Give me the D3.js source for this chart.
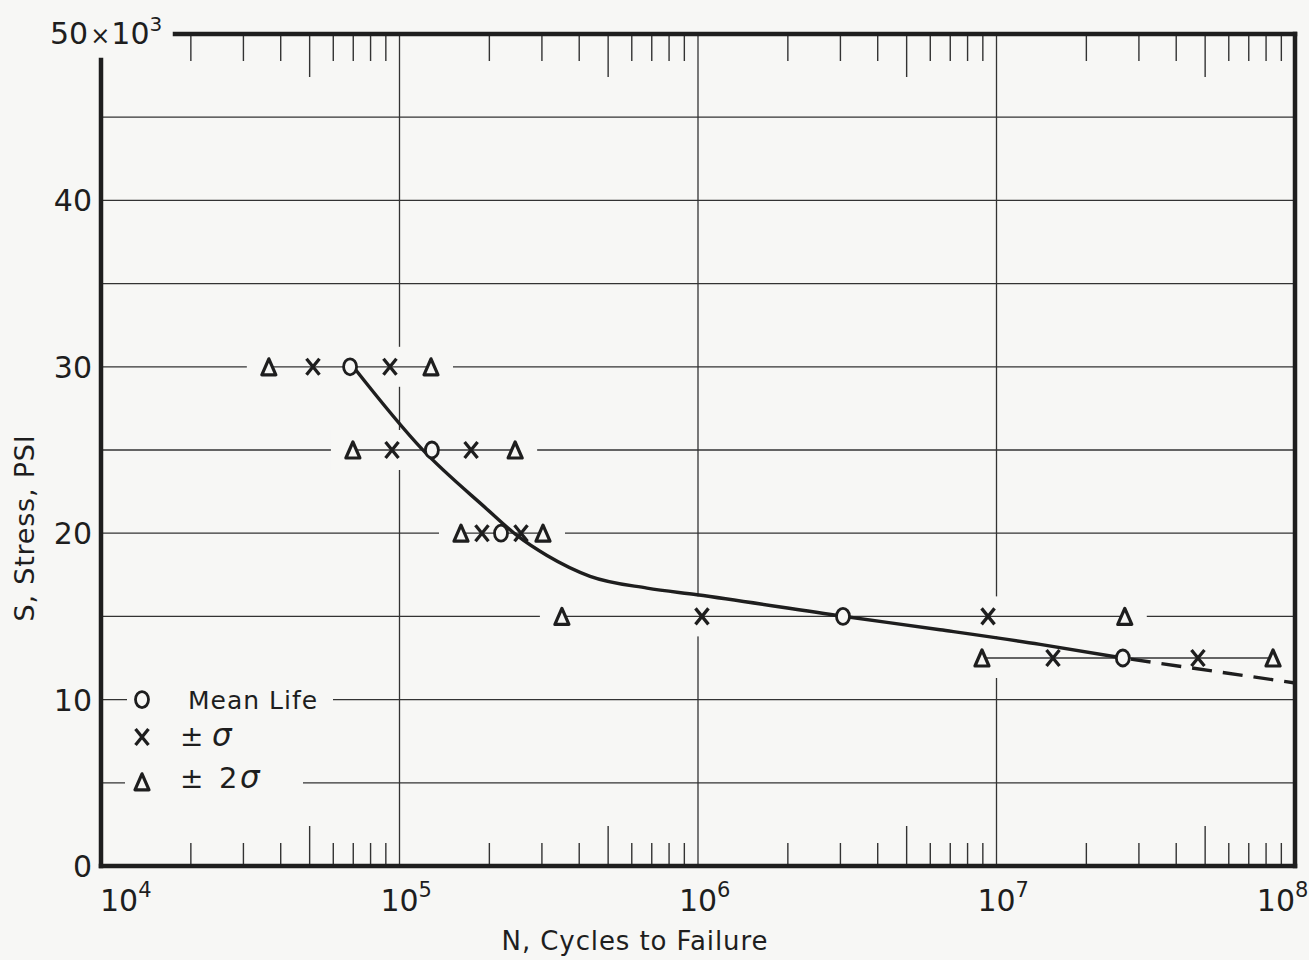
<!DOCTYPE html>
<html>
<head>
<meta charset="utf-8">
<script src="https://cdn.jsdelivr.net/npm/d3@7"></script>
<style>
  html, body { margin: 0; padding: 0; background: #f7f7f5; }
  svg { display: block; }
  text { font-family: "DejaVu Sans", sans-serif; fill: #1e1e1e; }
</style>
</head>
<body>
<svg id="chart" width="1309" height="960"></svg>
<script>
// ---------------- data ----------------
const xDecades = [1e4, 1e5, 1e6, 1e7, 1e8];
const xDecadeExponents = ["4", "5", "6", "7", "8"];
const yTickValues = [0, 10, 20, 30, 40];
const yTickLabels = ["0", "10", "20", "30", "40"];
const yTopValue = 50;
const yGridValues = [5, 10, 15, 20, 25, 30, 35, 40, 45];

const stressLevels = [30, 25, 20, 15, 12.5];
const meanLife     = [6.83e4, 1.284e5, 2.188e5, 3.06e6, 2.65e7];
const sigmaLow     = [5.13e4, 9.44e4, 1.889e5, 1.031e6, 1.546e7];
const sigmaHigh    = [9.29e4, 1.737e5, 2.553e5, 9.37e6, 4.73e7];
const twoSigmaLow  = [3.65e4, 6.98e4, 1.607e5, 3.50e5, 8.94e6];
const twoSigmaHigh = [1.275e5, 2.44e5, 3.025e5, 2.69e7, 8.44e7];

const curveN = [7.0e4, 1.19e5, 1.96e5, 2.48e5, 3.12e5, 4.35e5, 6.75e5, 9.93e5, 3.06e6, 6.47e6, 1.40e7, 2.65e7];
const curveS = [30, 25.05, 21.46, 19.85, 18.66, 17.41, 16.70, 16.30, 15.01, 14.20, 13.32, 12.50];
const extrapN = [2.65e7, 1e8];
const extrapS = [12.50, 11.0];

const legendLabels = ["Mean Life", "±", "σ", "±", "2", "σ"];
const xTitle = "N, Cycles to Failure";
const yTitle = "S, Stress, PSI";

// ---------------- layout ----------------
const BG = "#f7f7f5", INK = "#1e1e1e", GRID = "#333";
const L = 101, R = 1295, T = 34, B = 866;
const svg = d3.select("#chart");
svg.append("rect").attr("width", 1309).attr("height", 960).attr("fill", BG);

const x = d3.scaleLog().domain([1e4, 1e8]).range([L, R]);
const y = d3.scaleLinear().domain([0, 50]).range([B, T]);

// gridlines
const grid = svg.append("g").attr("stroke", GRID).attr("stroke-width", 1.3);
grid.selectAll("line.h").data(yGridValues).join("line")
  .attr("x1", L).attr("x2", R).attr("y1", d => y(d)).attr("y2", d => y(d));
grid.selectAll("line.v").data(xDecades.slice(1, -1)).join("line")
  .attr("y1", T).attr("y2", B).attr("x1", d => x(d)).attr("x2", d => x(d));

// minor ticks (top and bottom)
const minor = [];
for (let k = 0; k < xDecades.length - 1; k++)
  for (let m = 2; m <= 9; m++) minor.push({v: xDecades[k] * m, m});
const ticks = svg.append("g").attr("stroke", GRID).attr("stroke-width", 1.4);
ticks.selectAll("line.b").data(minor).join("line")
  .attr("x1", d => x(d.v)).attr("x2", d => x(d.v))
  .attr("y1", B).attr("y2", d => B - (d.m === 5 ? 40 : 23));
ticks.selectAll("line.t").data(minor).join("line")
  .attr("x1", d => x(d.v)).attr("x2", d => x(d.v))
  .attr("y1", T).attr("y2", d => T + (d.m === 5 ? 43 : 27));

// row covers (gaps in gridlines around each data row) + connecting lines
const rows = stressLevels.map((s, i) => ({s, lo: twoSigmaLow[i], hi: twoSigmaHigh[i]}));
svg.append("g").selectAll("rect").data(rows).join("rect")
  .attr("x", d => x(d.lo) - 22).attr("width", d => x(d.hi) - x(d.lo) + 44)
  .attr("y", d => y(d.s) - 20).attr("height", 40).attr("fill", BG);
svg.append("g").attr("stroke", GRID).attr("stroke-width", 1.3)
  .selectAll("line").data(rows).join("line")
  .attr("x1", d => x(d.lo)).attr("x2", d => x(d.hi))
  .attr("y1", d => y(d.s)).attr("y2", d => y(d.s));

// legend covers
const legendG = svg.append("g");
legendG.append("rect").attr("x", 127).attr("y", y(10) - 12).attr("width", 206).attr("height", 24).attr("fill", BG);
legendG.append("rect").attr("x", 125).attr("y", y(5) - 12).attr("width", 178).attr("height", 24).attr("fill", BG);

// curve
const pts = curveN.map((n, i) => [x(n), y(curveS[i])]);
const line = d3.line().curve(d3.curveMonotoneX);
svg.append("path").attr("d", line(pts)).attr("fill", "none")
  .attr("stroke", INK).attr("stroke-width", 3.4).attr("stroke-linejoin", "round");
svg.append("path").attr("d", d3.line()(extrapN.map((n, i) => [x(n), y(extrapS[i])])))
  .attr("fill", "none").attr("stroke", INK).attr("stroke-width", 3.4)
  .attr("stroke-dasharray", "20,11").attr("stroke-dashoffset", -8);

// markers
function drawCircle(g, cx, cy) {
  g.append("ellipse").attr("cx", cx).attr("cy", cy).attr("rx", 6.5).attr("ry", 8)
    .attr("fill", BG).attr("stroke", INK).attr("stroke-width", 2.8);
}
function drawX(g, cx, cy) {
  g.append("path").attr("d",
    `M${cx-6.5},${cy-8}L${cx+6.5},${cy+8}M${cx+6.5},${cy-8}L${cx-6.5},${cy+8}`)
    .attr("stroke", INK).attr("stroke-width", 3.3).attr("fill", "none");
}
function drawTri(g, cx, cy) {
  g.append("path").attr("d", `M${cx},${cy-8}L${cx+7},${cy+8}L${cx-7},${cy+8}Z`)
    .attr("fill", BG).attr("stroke", INK).attr("stroke-width", 3.2).attr("stroke-linejoin", "round");
}
const mk = svg.append("g");
stressLevels.forEach((s, i) => {
  const cy = y(s);
  drawTri(mk, x(twoSigmaLow[i]), cy);
  drawTri(mk, x(twoSigmaHigh[i]), cy);
  drawX(mk, x(sigmaLow[i]), cy);
  drawX(mk, x(sigmaHigh[i]), cy);
  drawCircle(mk, x(meanLife[i]), cy);
});

// axes frame
const frame = svg.append("g").attr("stroke", INK).attr("stroke-width", 4.5).attr("stroke-linecap", "square");
frame.append("line").attr("x1", L).attr("x2", L).attr("y1", 60).attr("y2", B);
frame.append("line").attr("x1", L).attr("x2", R).attr("y1", B).attr("y2", B);
frame.append("line").attr("x1", R).attr("x2", R).attr("y1", T).attr("y2", B);
frame.append("line").attr("x1", 175).attr("x2", R).attr("y1", T).attr("y2", T);

// y tick labels
svg.append("g").selectAll("text").data(yTickValues).join("text")
  .attr("x", 92).attr("y", d => y(d) + 11).attr("text-anchor", "end")
  .attr("font-size", 30).text((d, i) => yTickLabels[i]);
const topLab = svg.append("text").attr("x", 50).attr("y", y(yTopValue) + 10).attr("font-size", 30);
topLab.append("tspan").text("50");
topLab.append("tspan").attr("font-size", 24).attr("dx", 2).text("×");
topLab.append("tspan").attr("dx", 1).text("10");
topLab.append("tspan").attr("font-size", 20).attr("dy", -13).text("3");

// x tick labels
xDecades.forEach((v, i) => {
  const t = svg.append("text").attr("y", 911).attr("font-size", 30);
  const base = t.append("tspan").text("10");
  t.append("tspan").attr("font-size", 21).attr("dy", -14).text(xDecadeExponents[i]);
  const w = base.node().getComputedTextLength();
  let x0 = x(v) - w / 2;
  if (i === 0) x0 = x(v) - 1;
  if (i === xDecades.length - 1) x0 = x(v) - w;
  t.attr("x", x0);
});

// axis titles
svg.append("text").attr("x", 635).attr("y", 950).attr("text-anchor", "middle")
  .attr("font-size", 26).attr("letter-spacing", 0.9).text(xTitle);
svg.append("text").attr("transform", "translate(34,528) rotate(-90)").attr("text-anchor", "middle")
  .attr("font-size", 27).attr("letter-spacing", 0.8).text(yTitle);

// legend
drawCircle(legendG, 142, y(10));
legendG.append("text").attr("x", 188).attr("y", y(10) + 9).attr("font-size", 25).attr("letter-spacing", 1).text(legendLabels[0]);
drawX(legendG, 142, 737);
legendG.append("text").attr("x", 180).attr("y", 746).attr("font-size", 28).text(legendLabels[1]);
legendG.append("text").attr("x", 212).attr("y", 746).attr("font-size", 31).attr("font-style", "italic").text(legendLabels[2]);
drawTri(legendG, 142, y(5) - 1);
legendG.append("text").attr("x", 180).attr("y", 788).attr("font-size", 28).text(legendLabels[3]);
legendG.append("text").attr("x", 219).attr("y", 788).attr("font-size", 29).text(legendLabels[4]);
legendG.append("text").attr("x", 240).attr("y", 788).attr("font-size", 31).attr("font-style", "italic").text(legendLabels[5]);
</script>
</body>
</html>
